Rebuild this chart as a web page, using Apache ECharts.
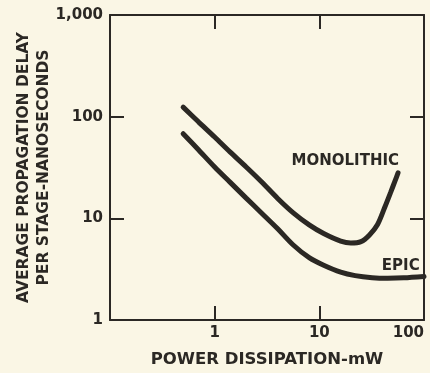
<!DOCTYPE html>
<html>
<head>
<meta charset="utf-8">
<script src="https://cdn.jsdelivr.net/npm/echarts@6/dist/echarts.min.js"></script>
<style>
  html, body { margin: 0; padding: 0; background: #faf6e5; }
  #chart { width: 430px; height: 373px; }
</style>
</head>
<body>
<div id="chart"></div>
<script>
// Power dissipation (mW) and propagation delay (ns) along each curve
const monoPower = [0.5, 0.7, 1, 1.4, 2, 2.8, 4, 5.6, 8, 11, 16, 20, 25, 30, 36, 42, 48, 53, 56.5];
const monoDelay = [124, 89, 63, 45, 32, 22.9, 15.7, 11.4, 8.63, 7.1, 5.98, 5.72, 5.9, 6.82, 8.7, 12.7, 18, 23.5, 28];

const epicPower = [0.5, 0.7, 1, 1.4, 2, 2.8, 4, 5.6, 8, 11, 16, 22, 32, 45, 64, 100];
const epicDelay = [68, 47.3, 32, 22.7, 15.8, 11.3, 7.9, 5.5, 4.1, 3.45, 2.95, 2.73, 2.61, 2.58, 2.6, 2.68];

// Tick labels for the log axes (one per decade)
const xTickValues = [0.1, 1, 10, 100];
const xTickLabels = ['', '1', '10', '100'];
const yTickValues = [1, 10, 100, 1000];
const yTickLabels = ['1', '10', '100', '1,000'];

// Curve captions and the data points they sit at
const curveNames = ['MONOLITHIC', 'EPIC'];
const captionAt = [[17.7, 36.6], [60, 3.4]];

const ink = '#2b2824';
const font = 'DejaVu Sans';

function lookup(values, labels) {
  return function (v) {
    for (let i = 0; i < values.length; i++) {
      if (Math.abs(Math.log10(v) - Math.log10(values[i])) < 1e-6) return labels[i];
    }
    return '';
  };
}

const chart = echarts.init(document.getElementById('chart'), null, { renderer: 'canvas' });

const axisLine = { show: true, lineStyle: { color: ink, width: 2 } };
const tickStyle = { show: true, inside: true, length: 14, lineStyle: { color: ink, width: 2 } };

function caption(i) {
  return {
    symbol: 'rect', symbolSize: [1, 1],
    itemStyle: { color: 'rgba(0,0,0,0)' },
    label: {
      show: true, position: 'inside', formatter: curveNames[i],
      color: ink, fontFamily: font, fontWeight: 'bold', fontSize: 15
    },
    data: [{ coord: captionAt[i] }]
  };
}

chart.setOption({
  backgroundColor: '#faf6e5',
  animation: false,
  grid: { left: 110, top: 15, right: 6, bottom: 53, containLabel: false, outerBoundsMode: 'none' },
  xAxis: [
    {
      type: 'log', logBase: 10, min: 0.1, max: 100, position: 'bottom',
      axisLine: axisLine, axisTick: tickStyle, splitLine: { show: false },
      axisLabel: {
        color: ink, fontFamily: font, fontWeight: 'bold', fontSize: 15, margin: 6,
        formatter: lookup(xTickValues, xTickLabels),
        alignMaxLabel: 'right'
      },
      name: 'POWER DISSIPATION-mW', nameLocation: 'middle', nameGap: 31, nameMoveOverlap: false,
      nameTextStyle: { color: ink, fontFamily: font, fontWeight: 'bold', fontSize: 16.5 }
    },
    {
      type: 'log', logBase: 10, min: 0.1, max: 100, position: 'top',
      axisLine: axisLine, axisTick: tickStyle, splitLine: { show: false },
      axisLabel: { show: false }
    }
  ],
  yAxis: [
    {
      type: 'log', logBase: 10, min: 1, max: 1000, position: 'left',
      axisLine: axisLine, axisTick: tickStyle, splitLine: { show: false },
      axisLabel: {
        color: ink, fontFamily: font, fontWeight: 'bold', fontSize: 15, margin: 7,
        formatter: lookup(yTickValues, yTickLabels)
      },
      name: 'AVERAGE PROPAGATION DELAY\nPER STAGE-NANOSECONDS',
      nameLocation: 'middle', nameRotate: 90, nameGap: 56, nameMoveOverlap: false,
      nameTextStyle: { color: ink, fontFamily: font, fontWeight: 'bold', fontSize: 15.5, lineHeight: 20 }
    },
    {
      type: 'log', logBase: 10, min: 1, max: 1000, position: 'right',
      axisLine: axisLine, axisTick: tickStyle, splitLine: { show: false },
      axisLabel: { show: false }
    }
  ],
  series: [
    {
      name: curveNames[0], type: 'line', smooth: 0.3, symbol: 'none',
      data: monoPower.map((p, i) => [p, monoDelay[i]]),
      lineStyle: { color: ink, width: 5, cap: 'round' },
      markPoint: caption(0)
    },
    {
      name: curveNames[1], type: 'line', smooth: 0.3, symbol: 'none',
      data: epicPower.map((p, i) => [p, epicDelay[i]]),
      lineStyle: { color: ink, width: 5, cap: 'round' },
      markPoint: caption(1)
    }
  ]
});
</script>
</body>
</html>
